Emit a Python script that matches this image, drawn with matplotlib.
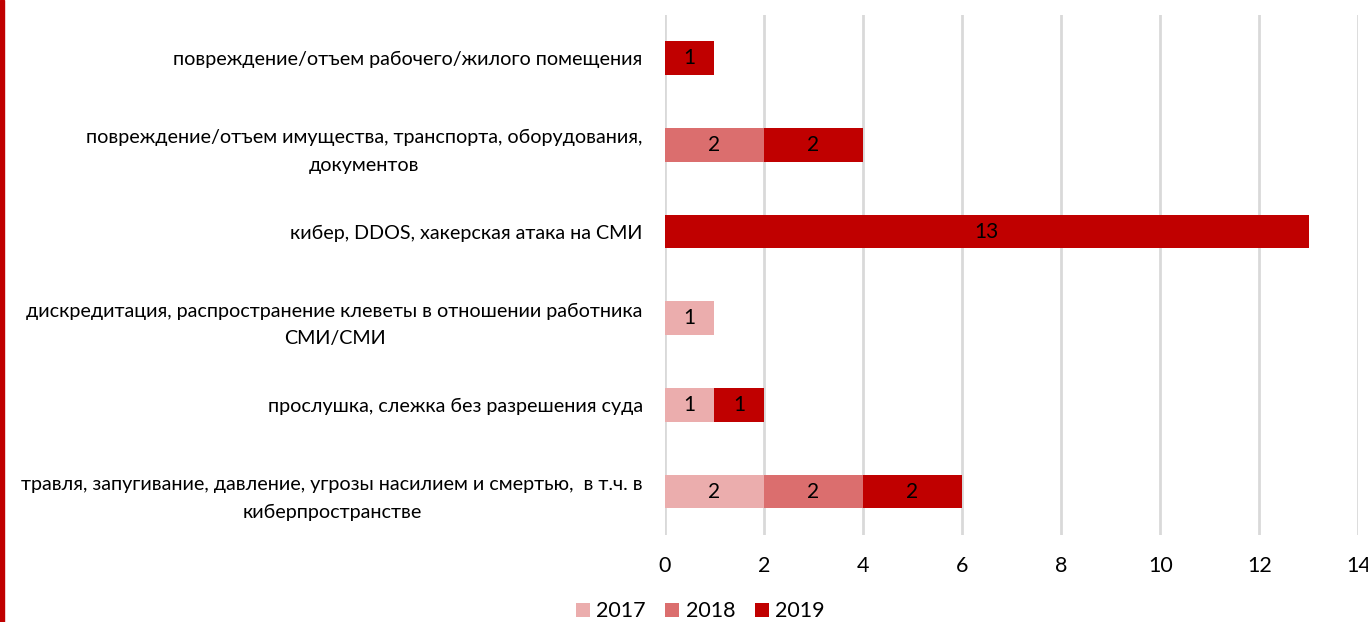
import matplotlib
matplotlib.use("Agg")
import matplotlib.pyplot as plt
from matplotlib.patches import Rectangle

plt.rcParams['font.family'] = ['Lato', 'DejaVu Sans']

# categories, bottom to top
categories = [
    "травля, запугивание, давление, угрозы насилием и смертью,  в т.ч. в\nкиберпространстве",
    "прослушка, слежка без разрешения суда",
    "дискредитация, распространение клеветы в отношении работника\nСМИ/СМИ",
    "кибер, DDOS, хакерская атака на СМИ",
    "повреждение/отъем имущества, транспорта, оборудования,\nдокументов",
    "повреждение/отъем рабочего/жилого помещения",
]
years = ["2017", "2018", "2019"]
v2017 = [2, 1, 1, 0, 0, 0]
v2018 = [2, 0, 0, 0, 2, 0]
v2019 = [2, 1, 0, 13, 2, 1]
colors = ["#EBADAD", "#DB6E6E", "#C00000"]

fig = plt.figure(figsize=(13.68, 6.22), dpi=100)
ax = fig.add_axes([0.486, 0.14, 0.507, 0.836])

y = list(range(len(categories)))
left = [0] * len(categories)
for year, vals, col in zip(years, [v2017, v2018, v2019], colors):
    bars = ax.barh(y, vals, left=left, height=0.39, color=col, label=year, zorder=3)
    for b, v in zip(bars, vals):
        if v:
            ax.text(b.get_x() + b.get_width() / 2, b.get_y() + b.get_height() / 2, str(v),
                    ha='center', va='center', fontsize=15, color='black', zorder=4)
    left = [l + v for l, v in zip(left, vals)]

ax.set_xlim(0, 14)
ax.set_ylim(-0.5, 5.5)
ax.set_xticks(range(0, 15, 2))
ax.set_yticks(y)
ax.set_yticklabels(categories, fontsize=14.2, multialignment='center', linespacing=1.75)
ax.tick_params(axis='both', length=0)
ax.tick_params(axis='x', labelsize=15.5, pad=15)
ax.tick_params(axis='y', pad=16)
ax.grid(axis='x', color='#D9D9D9', linewidth=2, zorder=0)
for s in ax.spines.values():
    s.set_visible(False)

fig.legend(loc='lower center', bbox_to_anchor=(0.512, -0.03), ncol=3, frameon=False,
           fontsize=15.5, handlelength=0.65, handleheight=0.65, handletextpad=0.3,
           columnspacing=0.9)

# red bar along the left edge
fig.add_artist(Rectangle((0, 0), 0.003, 1, transform=fig.transFigure,
                         color='#C00000', zorder=5))

fig.savefig("out.png", dpi=100)
